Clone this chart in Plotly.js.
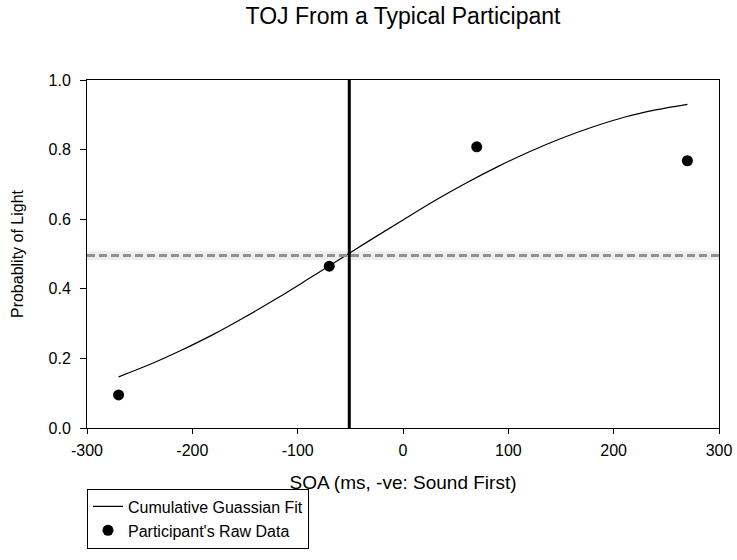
<!DOCTYPE html>
<html>
<head>
<meta charset="utf-8">
<script src="https://cdn.plot.ly/plotly-3.0.1.min.js"></script>
<style>
  html, body { margin: 0; padding: 0; background: #ffffff; }
  #chart { width: 737px; height: 560px; }
</style>
</head>
<body>
<div id="chart"></div>
<script>
// Fitted cumulative Gaussian curve
var fitSOA = [-270, -240, -210, -180, -150, -120, -90, -60, -30, 0, 30, 60, 90, 120, 150, 180, 210, 240, 270];
var fitProb = [0.147, 0.183, 0.224, 0.269, 0.319, 0.372, 0.428, 0.485, 0.542, 0.598, 0.653, 0.704, 0.751, 0.794, 0.832, 0.865, 0.893, 0.914, 0.930];

// Participant's raw data
var rawSOA = [-270, -70, 70, 270];
var rawProb = [0.095, 0.465, 0.808, 0.768];

// Point of subjective equality and 50% threshold
var pse = [-51];
var threshold = [0.496];

// Axis ticks
var xTicks = [-300, -200, -100, 0, 100, 200, 300];
var yTicks = [0.0, 0.2, 0.4, 0.6, 0.8, 1.0];

var font = 'Liberation Sans, Arial, Helvetica, sans-serif';

var traces = [
  {
    x: fitSOA, y: fitProb,
    type: 'scatter', mode: 'lines',
    line: { color: '#000000', width: 1.2, shape: 'spline' },
    name: 'Cumulative Guassian Fit',
    hoverinfo: 'skip'
  },
  {
    x: rawSOA, y: rawProb,
    type: 'scatter', mode: 'markers',
    marker: { color: '#000000', size: 11, symbol: 'circle' },
    name: "Participant's Raw Data"
  }
];

var shapes = [
  // soft glow under dashed threshold line
  {
    type: 'line', xref: 'paper', yref: 'y',
    x0: 0, x1: 1, y0: threshold[0], y1: threshold[0],
    line: { color: 'rgba(150,150,150,0.16)', width: 9 },
    layer: 'below'
  },
  {
    type: 'line', xref: 'paper', yref: 'y',
    x0: 0, x1: 1, y0: threshold[0], y1: threshold[0],
    line: { color: '#929292', width: 3, dash: '8px,4px' },
    layer: 'above'
  },
  {
    type: 'line', xref: 'x', yref: 'paper',
    x0: pse[0], x1: pse[0], y0: 0, y1: 1,
    line: { color: '#000000', width: 3 },
    layer: 'above'
  }
];

var layout = {
  width: 737, height: 560,
  margin: { l: 87, r: 18, t: 80, b: 118 },
  paper_bgcolor: '#ffffff',
  plot_bgcolor: '#ffffff',
  font: { family: font, color: '#000000', size: 16 },
  title: {
    text: 'TOJ From a Typical Participant',
    font: { family: font, size: 23, color: '#000000' },
    x: 0.5, xref: 'paper', xanchor: 'center',
    y: 0.971, yref: 'container', yanchor: 'middle'
  },
  xaxis: {
    range: [-300, 300],
    tickmode: 'array', tickvals: xTicks,
    ticktext: xTicks.map(function (v) { return String(v); }),
    ticks: 'outside', ticklen: 5, tickwidth: 1, tickcolor: '#000000',
    ticklabelstandoff: 3,
    showline: true, linecolor: '#000000', linewidth: 1, mirror: true,
    showgrid: false, zeroline: false,
    tickfont: { family: font, size: 16, color: '#000000' },
    title: { text: 'SOA (ms, -ve: Sound First)', font: { family: font, size: 19, color: '#000000' }, standoff: 17 },
    automargin: false, fixedrange: true
  },
  yaxis: {
    range: [0, 1],
    tickmode: 'array', tickvals: yTicks,
    ticktext: yTicks.map(function (v) { return v.toFixed(1); }),
    ticks: 'outside', ticklen: 6, tickwidth: 1, tickcolor: '#000000',
    ticklabelstandoff: 6,
    showline: true, linecolor: '#000000', linewidth: 1, mirror: true,
    showgrid: false, zeroline: false,
    tickfont: { family: font, size: 16, color: '#000000' },
    title: { text: 'Probablity of Light', font: { family: font, size: 16, color: '#000000' }, standoff: 20 },
    automargin: false, fixedrange: true
  },
  showlegend: true,
  legend: {
    x: 0, xref: 'paper', xanchor: 'left',
    y: -0.174, yref: 'paper', yanchor: 'top',
    bgcolor: '#ffffff', bordercolor: '#000000', borderwidth: 1,
    font: { family: font, size: 16, color: '#000000' },
    entrywidth: 255, entrywidthmode: 'pixels',
    tracegroupgap: 0
  },
  shapes: shapes
};

Plotly.newPlot('chart', traces, layout, { displayModeBar: false, staticPlot: true });
</script>
</body>
</html>
